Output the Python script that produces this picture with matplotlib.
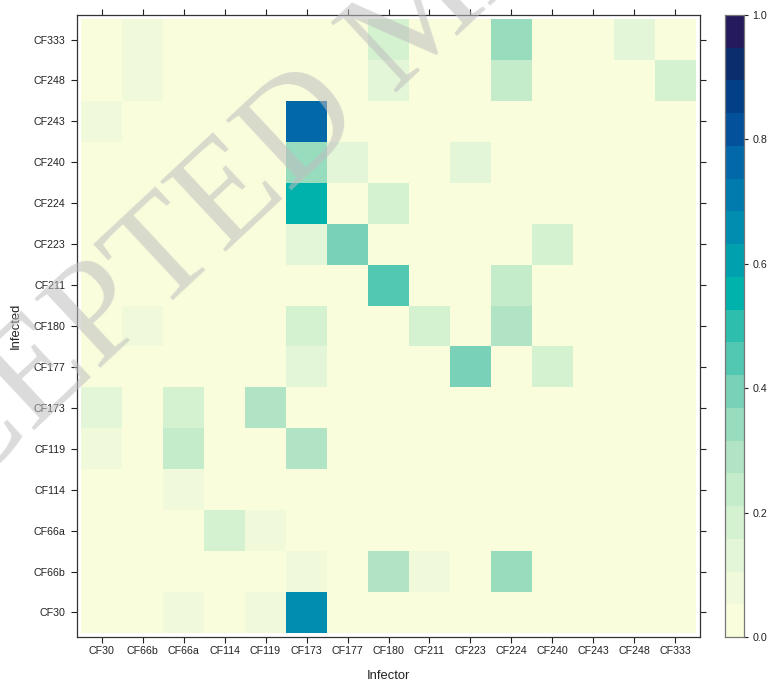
import numpy as np
import matplotlib
matplotlib.use("Agg")
import matplotlib.pyplot as plt
from matplotlib.colors import ListedColormap, BoundaryNorm

# Strain labels (same order on both axes)
strains = ["CF30", "CF66b", "CF66a", "CF114", "CF119", "CF173", "CF177", "CF180",
           "CF211", "CF223", "CF224", "CF240", "CF243", "CF248", "CF333"]

# Transmission probability: rows = infected (bottom to top), columns = infector
prob = [
    # CF30
    [0.00, 0.00, 0.08, 0.00, 0.08, 0.68, 0.00, 0.00, 0.00, 0.00, 0.00, 0.00, 0.00, 0.00, 0.00],
    # CF66b
    [0.00, 0.00, 0.00, 0.00, 0.00, 0.08, 0.00, 0.29, 0.08, 0.00, 0.34, 0.00, 0.00, 0.00, 0.00],
    # CF66a
    [0.00, 0.00, 0.00, 0.18, 0.08, 0.00, 0.00, 0.00, 0.00, 0.00, 0.00, 0.00, 0.00, 0.00, 0.00],
    # CF114
    [0.00, 0.00, 0.08, 0.00, 0.00, 0.00, 0.00, 0.00, 0.00, 0.00, 0.00, 0.00, 0.00, 0.00, 0.00],
    # CF119
    [0.08, 0.00, 0.24, 0.00, 0.00, 0.29, 0.00, 0.00, 0.00, 0.00, 0.00, 0.00, 0.00, 0.00, 0.00],
    # CF173
    [0.13, 0.00, 0.18, 0.00, 0.29, 0.00, 0.00, 0.00, 0.00, 0.00, 0.00, 0.00, 0.00, 0.00, 0.00],
    # CF177
    [0.00, 0.00, 0.00, 0.00, 0.00, 0.13, 0.00, 0.00, 0.00, 0.39, 0.00, 0.18, 0.00, 0.00, 0.00],
    # CF180
    [0.00, 0.08, 0.00, 0.00, 0.00, 0.18, 0.00, 0.00, 0.18, 0.00, 0.29, 0.00, 0.00, 0.00, 0.00],
    # CF211
    [0.00, 0.00, 0.00, 0.00, 0.00, 0.00, 0.00, 0.45, 0.00, 0.00, 0.24, 0.00, 0.00, 0.00, 0.00],
    # CF223
    [0.00, 0.00, 0.00, 0.00, 0.00, 0.13, 0.39, 0.00, 0.00, 0.00, 0.00, 0.18, 0.00, 0.00, 0.00],
    # CF224
    [0.00, 0.00, 0.00, 0.00, 0.00, 0.55, 0.00, 0.18, 0.00, 0.00, 0.00, 0.00, 0.00, 0.00, 0.00],
    # CF240
    [0.00, 0.00, 0.00, 0.00, 0.00, 0.34, 0.13, 0.00, 0.00, 0.13, 0.00, 0.00, 0.00, 0.00, 0.00],
    # CF243
    [0.08, 0.00, 0.00, 0.00, 0.00, 0.76, 0.00, 0.00, 0.00, 0.00, 0.00, 0.00, 0.00, 0.00, 0.00],
    # CF248
    [0.00, 0.08, 0.00, 0.00, 0.00, 0.00, 0.00, 0.13, 0.00, 0.00, 0.24, 0.00, 0.00, 0.00, 0.18],
    # CF333
    [0.00, 0.08, 0.00, 0.00, 0.00, 0.00, 0.00, 0.18, 0.00, 0.00, 0.34, 0.00, 0.00, 0.13, 0.00],
]

colorbar_ticks = [0.0, 0.2, 0.4, 0.6, 0.8, 1.0]

# 19 discrete colour levels between 0 and 1 (yellow -> green -> blue -> purple)
level_colors = ["#F9FDDC", "#F0FADA", "#E3F6D7", "#D4F1D0", "#C4ECCB", "#B1E4C4",
                "#98DCBE", "#79D2B7", "#52C7B1", "#2DBEAE", "#00B2AC", "#00A0AE",
                "#008DB0", "#017BAE", "#0368A8", "#03519B", "#023F87", "#0A2D6E",
                "#251A5C"]
levels = np.linspace(0, 1, len(level_colors) + 1)
cmap = ListedColormap(level_colors)
norm = BoundaryNorm(levels, cmap.N)

W, H = 769, 682
fig = plt.figure(figsize=(W / 100, H / 100), dpi=100)
font = "Liberation Sans"
tick_fs = 7.7
label_fs = 9.4

def px_axes(x0, y0, x1, y1):
    return fig.add_axes([x0 / W, 1 - y1 / H, (x1 - x0) / W, (y1 - y0) / H])

ax = px_axes(77, 15, 700, 637)
z = np.array(prob)
n = len(strains)
xe = np.arange(n + 1) - 0.5
ax.pcolormesh(xe, xe, z, cmap=cmap, norm=norm, edgecolors="none", antialiased=False)
ax.set_xlim(-0.6, n - 0.4)
ax.set_ylim(-0.6, n - 0.4)
ax.set_xticks(range(n))
ax.set_yticks(range(n))
ax.set_xticklabels(strains, fontsize=tick_fs, family=font, color="#222222")
ax.set_yticklabels(strains, fontsize=tick_fs, family=font, color="#222222")
ax.tick_params(axis="both", direction="out", length=4.3, width=0.8, color="#222222",
               top=True, right=True, labeltop=False, labelright=False)
ax.tick_params(axis="x", pad=2.5)
ax.tick_params(axis="y", pad=4)
for s in ax.spines.values():
    s.set_linewidth(0.9)
    s.set_color("#333333")

fig.text(388.5 / W, 1 - 676 / H, "Infector", ha="center", va="center",
         fontsize=label_fs, family=font, color="#222222")
fig.text(16 / W, 1 - 326 / H, "Infected", ha="center", va="center", rotation=90,
         fontsize=label_fs, family=font, color="#222222")

# colour key
cax = px_axes(725, 15, 744, 637)
cb_z = (levels[:-1] + levels[1:]) / 2
cax.pcolormesh([0, 1], levels, cb_z[:, None], cmap=cmap, norm=norm,
               edgecolors="none", antialiased=False)
cax.set_xlim(0, 1)
cax.set_ylim(0, 1)
cax.set_xticks([])
cax.yaxis.tick_right()
cax.set_yticks(colorbar_ticks)
cax.set_yticklabels([f"{t:.1f}" for t in colorbar_ticks], fontsize=tick_fs,
                    family=font, color="#222222")
cax.tick_params(axis="y", direction="out", length=3, width=0.8, pad=3, color="#222222")
for s in cax.spines.values():
    s.set_linewidth(0.9)
    s.set_color("#777777")

# diagonal watermark across the figure
fig.text(-190 / W, 1 - 639 / H, "ACCEPTED MANUSCRIPT", rotation=43,
         rotation_mode="anchor", ha="left", va="baseline", fontsize=106,
         family="Liberation Serif", color="#BEBEBE", alpha=0.55, zorder=10)

fig.savefig("out.png", dpi=100)
